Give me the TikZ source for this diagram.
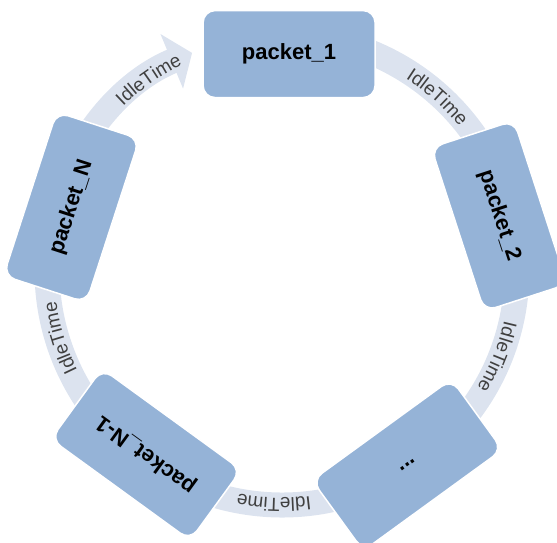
\documentclass[tikz,border=0pt]{standalone}
\usepackage{fontspec}
\setmainfont{Liberation Sans}
\usetikzlibrary{arrows.meta, decorations.text}

\definecolor{packetfill}{HTML}{95B3D7}
\definecolor{ringfill}{HTML}{DCE3EF}
\definecolor{idlegray}{HTML}{404040}

\begin{document}
\begin{tikzpicture}[x=1pt, y=1pt,
        packet box/.style = {draw=white, line width=1.5pt, fill=packetfill, rounded corners=12pt, minimum width=172pt, minimum height=87pt, inner sep=0pt, align=center, font=\fontsize{22}{24}\selectfont\bfseries},
        ring arrow/.style = {draw=ringfill, line width=25pt, -{Triangle[width=58pt, length=22pt]}},
        idle label/.style = {decorate, decoration={text along path, text align=center, text color=idlegray, text={|\fontsize{19}{19}\selectfont|IdleTime}}}
    ]
    \useasboundingbox (0,0) rectangle (557,542);
    \coordinate (rc) at (282,272); % ring centre
    \coordinate (pc) at (284,264); % packet centre

    % Ring
    \draw[ring arrow] ([shift={(85:235)}]rc) arc[start angle=85, end angle=-247.5, radius=235];

    % Labels
    \path[idle label] ([shift={(73:228)}]rc) arc[start angle=73, end angle=23, radius=228];
    \path[idle label] ([shift={(3:228)}]rc) arc[start angle=3, end angle=-47, radius=228];
    \path[idle label] ([shift={(-67:228)}]rc) arc[start angle=-67, end angle=-117, radius=228];
    \path[idle label] ([shift={(-138:228)}]rc) arc[start angle=-138, end angle=-188, radius=228];
    \path[idle label] ([shift={(150:228)}]rc) arc[start angle=150, end angle=100, radius=228];

    % Nodes
    \node (p1) [packet box] at ([shift={(88.7:224)}]pc) {packet\_1};
    \node (p2) [packet box, rotate=-72] at ([shift={(16.1:224)}]pc) {packet\_2};
    \node (p3) [packet box, rotate=-144] at ([shift={(-56.6:224)}]pc) {...};
    \node (p4) [packet box, rotate=144] at ([shift={(-128:224)}]pc) {packet\_N-1};
    \node (p5) [packet box, rotate=72] at ([shift={(161.6:224)}]pc) {packet\_N};

\end{tikzpicture}
\end{document}
